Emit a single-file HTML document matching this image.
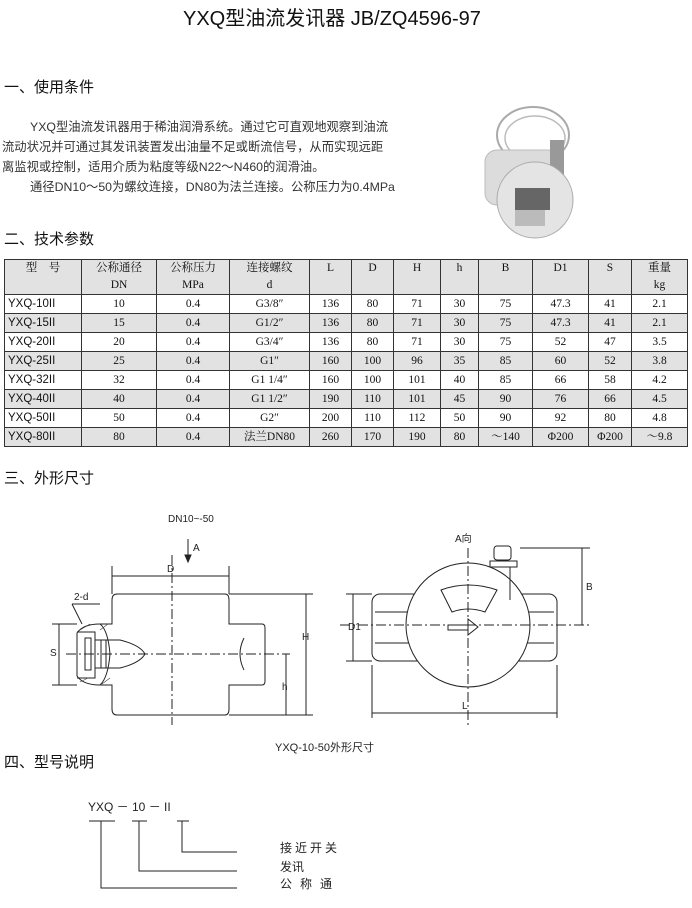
<!DOCTYPE html>
<html><head><meta charset="utf-8"><style>
body{margin:0;background:#fff;}
#p{position:relative;width:692px;height:908px;overflow:hidden;font-family:"Liberation Sans","Noto Sans CJK SC",sans-serif;color:#111;}
.t{position:absolute;white-space:nowrap;}
table{position:absolute;left:4px;top:259px;border-collapse:collapse;font-family:"Liberation Serif","Noto Serif CJK SC",serif;font-size:11.5px;}
td{border:1px solid #333;text-align:center;padding:0;height:18px;line-height:18px;}
td.m{font-family:"Liberation Sans","Noto Sans CJK SC",sans-serif;text-align:left;padding-left:3px;}
tr.g td{background:#e2e2e2;}
tr.h td{height:17px;line-height:17px;background:#e2e2e2;}
tr.h1 td{border-bottom:none;}
tr.h2 td{border-top:none;}
</style></head><body><div id="p">
<div class="t" style="left:183px;top:2px;font-size:20px;">YXQ型油流发讯器 JB/ZQ4596-97</div>
<div class="t" style="left:4px;top:76px;font-size:15px;">一、使用条件</div>
<div class="t" style="left:2px;top:117px;font-size:12.3px;line-height:20px;color:#333;">
<span style="padding-left:28px">YXQ型油流发讯器用于稀油润滑系统。通过它可直观地观察到油流</span><br>流动状况并可通过其发讯装置发出油量不足或断流信号，从而实现远距<br>离监视或控制，适用介质为粘度等级N22～N460的润滑油。<br><span style="padding-left:28px">通径DN10～50为螺纹连接，DN80为法兰连接。公称压力为0.4MPa</span></div>
<svg class="t" style="left:465px;top:90px" width="150" height="150">
<ellipse cx="68" cy="45" rx="36" ry="28" fill="none" stroke="#aaa" stroke-width="2"/>
<ellipse cx="70" cy="48" rx="30" ry="22" fill="none" stroke="#bbb" stroke-width="1.5"/>
<rect x="20" y="60" width="75" height="55" rx="12" fill="#dcdcdc" stroke="#bbb"/>
<rect x="85" y="50" width="14" height="40" fill="#999"/>
<circle cx="70" cy="110" r="38" fill="#e4e4e4" stroke="#aaa"/>
<rect x="50" y="98" width="35" height="22" fill="#666"/>
<rect x="50" y="120" width="30" height="16" fill="#bbb"/>
</svg>
<div class="t" style="left:4px;top:228px;font-size:15px;">二、技术参数</div>
<table>
<colgroup><col style="width:77px"><col style="width:75px"><col style="width:73px"><col style="width:80px"><col style="width:42px"><col style="width:42px"><col style="width:47px"><col style="width:38px"><col style="width:54px"><col style="width:56px"><col style="width:43px"><col style="width:56px"></colgroup>
<tr class="h h1"><td>型　号</td><td>公称通径</td><td>公称压力</td><td>连接螺纹</td><td>L</td><td>D</td><td>H</td><td>h</td><td>B</td><td>D1</td><td>S</td><td>重量</td></tr>
<tr class="h h2"><td></td><td>DN</td><td>MPa</td><td>d</td><td></td><td></td><td></td><td></td><td></td><td></td><td></td><td>kg</td></tr>
<tr><td class="m">YXQ-10II</td><td>10</td><td>0.4</td><td>G3/8″</td><td>136</td><td>80</td><td>71</td><td>30</td><td>75</td><td>47.3</td><td>41</td><td>2.1</td></tr>
<tr class="g"><td class="m">YXQ-15II</td><td>15</td><td>0.4</td><td>G1/2″</td><td>136</td><td>80</td><td>71</td><td>30</td><td>75</td><td>47.3</td><td>41</td><td>2.1</td></tr>
<tr><td class="m">YXQ-20II</td><td>20</td><td>0.4</td><td>G3/4″</td><td>136</td><td>80</td><td>71</td><td>30</td><td>75</td><td>52</td><td>47</td><td>3.5</td></tr>
<tr class="g"><td class="m">YXQ-25II</td><td>25</td><td>0.4</td><td>G1″</td><td>160</td><td>100</td><td>96</td><td>35</td><td>85</td><td>60</td><td>52</td><td>3.8</td></tr>
<tr><td class="m">YXQ-32II</td><td>32</td><td>0.4</td><td>G1 1/4″</td><td>160</td><td>100</td><td>101</td><td>40</td><td>85</td><td>66</td><td>58</td><td>4.2</td></tr>
<tr class="g"><td class="m">YXQ-40II</td><td>40</td><td>0.4</td><td>G1 1/2″</td><td>190</td><td>110</td><td>101</td><td>45</td><td>90</td><td>76</td><td>66</td><td>4.5</td></tr>
<tr><td class="m">YXQ-50II</td><td>50</td><td>0.4</td><td>G2″</td><td>200</td><td>110</td><td>112</td><td>50</td><td>90</td><td>92</td><td>80</td><td>4.8</td></tr>
<tr class="g"><td class="m">YXQ-80II</td><td>80</td><td>0.4</td><td>法兰DN80</td><td>260</td><td>170</td><td>190</td><td>80</td><td>～140</td><td>Φ200</td><td>Φ200</td><td>～9.8</td></tr>
</table>
<div class="t" style="left:4px;top:467px;font-size:15px;">三、外形尺寸</div>
<svg class="t" style="left:0;top:500px" width="692" height="260" font-family="Liberation Sans, Noto Sans CJK SC, sans-serif" font-size="10" fill="none" stroke="#222" stroke-width="1">
<g transform="translate(0,-500)">
<text x="168" y="522" fill="#222" stroke="none">DN10~-50</text>
<line x1="188" y1="539" x2="188" y2="561"/><path d="M185,555 L188,562 L191,555Z" fill="#222"/>
<text x="193" y="551" fill="#222" stroke="none">A</text>
<line x1="112" y1="566" x2="112" y2="594"/><line x1="229" y1="566" x2="229" y2="594"/>
<line x1="112" y1="576" x2="229" y2="576"/>
<text x="167" y="572" fill="#222" stroke="none">D</text>
<path d="M117,594 H225 Q229,594 229,600 V624 H262 Q265,624 265,628 V681 Q265,685 262,685 H229 V709 Q229,715 225,715 H117 Q112,715 112,709 V685 H100 Q83,685 77,676 V633 Q83,624 100,624 H112 V600 Q112,594 117,594Z"/>
<path d="M100,624 Q108,630 110,654 Q108,678 100,685" />
<path d="M77,632 H95 V678 H77 M95,640 H120 Q140,645 145,654 Q140,663 120,668 H95" stroke-width="1"/>
<g stroke="#444" stroke-width="0.6"><line x1="80" y1="630" x2="90" y2="624"/><line x1="80" y1="682" x2="88" y2="678"/><line x1="100" y1="630" x2="108" y2="624"/><line x1="102" y1="684" x2="110" y2="678"/></g>
<rect x="85" y="638" width="6" height="32"/><rect x="101" y="640" width="5" height="28"/>
<path d="M244,638 Q236,654 244,670"/>
<line x1="172" y1="555" x2="172" y2="725" stroke-dasharray="10,3,2,3"/>
<line x1="66" y1="654" x2="290" y2="654" stroke-dasharray="10,3,2,3"/>
<line x1="229" y1="594" x2="313" y2="594"/><line x1="229" y1="715" x2="313" y2="715"/>
<line x1="306" y1="594" x2="306" y2="715"/><text x="302" y="640" fill="#222" stroke="none">H</text>
<line x1="286" y1="654" x2="286" y2="715"/><text x="282" y="690" fill="#222" stroke="none">h</text>
<line x1="52" y1="624" x2="77" y2="624"/><line x1="52" y1="685" x2="77" y2="685"/>
<line x1="59" y1="624" x2="59" y2="685"/><text x="50" y="656" fill="#222" stroke="none">S</text>
<text x="74" y="600" fill="#222" stroke="none">2-d</text><line x1="72" y1="604" x2="100" y2="604"/><line x1="72" y1="604" x2="82" y2="624"/>
<text x="455" y="542" fill="#222" stroke="none">A向</text>
<rect x="372" y="594" width="185" height="67" rx="8"/>
<line x1="375" y1="612" x2="554" y2="612"/><line x1="375" y1="643" x2="554" y2="643"/>
<circle cx="468" cy="625" r="62" fill="#fff"/>
<rect x="490" y="561" width="27" height="6" fill="#fff"/><rect x="494" y="546" width="17" height="14" rx="3" fill="#fff"/>
<line x1="510" y1="567" x2="510" y2="600"/>
<path d="M441,590 Q468,580 497,590 L485,612 Q468,606 452,612Z" fill="#fff"/>
<path d="M448,625 H468 V619 L478,627 L468,635 V630 H448Z" fill="#fff"/>
<line x1="468" y1="548" x2="468" y2="725" stroke-dasharray="10,3,2,3"/>
<line x1="340" y1="625" x2="590" y2="625" stroke-dasharray="10,3,2,3"/>
<line x1="346" y1="594" x2="372" y2="594"/><line x1="346" y1="661" x2="372" y2="661"/>
<line x1="353" y1="594" x2="353" y2="661"/><text x="348" y="630" fill="#222" stroke="none">D1</text>
<line x1="372" y1="665" x2="372" y2="718"/><line x1="557" y1="665" x2="557" y2="718"/>
<line x1="372" y1="713" x2="557" y2="713"/><text x="462" y="709" fill="#222" stroke="none">L</text>
<line x1="520" y1="548" x2="590" y2="548"/>
<line x1="582" y1="548" x2="582" y2="625"/><text x="586" y="590" fill="#222" stroke="none">B</text>
<text x="275" y="751" fill="#222" stroke="none" font-size="11">YXQ-10-50外形尺寸</text>
</g></svg>
<div class="t" style="left:4px;top:751px;font-size:15px;">四、型号说明</div>
<svg class="t" style="left:0;top:790px" width="400" height="118" font-family="Liberation Sans, Noto Sans CJK SC, sans-serif" font-size="12" stroke="#222" fill="none">
<g transform="translate(0,-790)">
<text x="88" y="811" fill="#222" stroke="none">YXQ － 10 － II</text>
<line x1="89" y1="821" x2="115" y2="821"/><line x1="132" y1="821" x2="147" y2="821"/><line x1="177" y1="821" x2="189" y2="821"/>
<polyline points="101,821 101,888 237,888"/><polyline points="139,821 139,871 237,871"/><polyline points="182,821 182,852 237,852"/>
<text x="280" y="852" fill="#222" stroke="none" letter-spacing="3">接近开关</text>
<text x="280" y="871" fill="#222" stroke="none">发讯</text>
<text x="280" y="888" fill="#222" stroke="none" letter-spacing="8">公称通</text>
</g></svg>
</div></body></html>
